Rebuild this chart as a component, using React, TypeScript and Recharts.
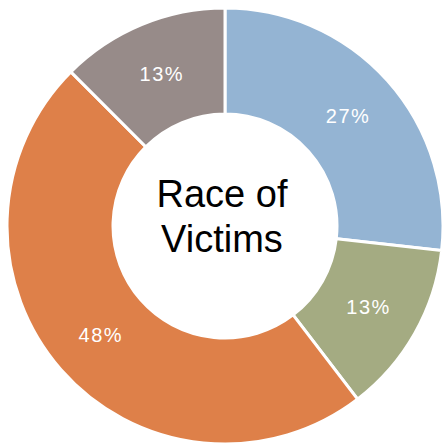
import { PieChart, Pie, Cell } from "recharts";

// Slices clockwise from 12 o'clock
const groups = ["White", "Other", "Black", "Hispanic"];
const shares = [26.8, 12.8, 47.9, 12.5];
const shareLabels = ["27%", "13%", "48%", "13%"];
const colors = ["#94B4D3", "#A4AB82", "#DE8049", "#978B89"];

const chartData = groups.map((name, i) => ({ name, value: shares[i], label: shareLabels[i] }));

const RADIAN = Math.PI / 180;

// label sits in the middle of the ring
const renderLabel = (props: any) => {
    const { cx, cy, midAngle, innerRadius, outerRadius, index } = props;
    const r = (innerRadius + outerRadius) / 2;
    const x = cx + r * Math.cos(-midAngle * RADIAN);
    const y = cy + r * Math.sin(-midAngle * RADIAN);
    return (
        <text
            x={x}
            y={y}
            fill="#ffffff"
            textAnchor="middle"
            dominantBaseline="central"
            style={{ fontSize: "20px", letterSpacing: "1.5px", fontFamily: "'Liberation Sans', Arial, sans-serif" }}
        >
            {shareLabels[index]}
        </text>
    );
};

export default function App() {
    return (
        <div style={{ position: "fixed", left: 0, top: 0, width: 446, height: 446, background: "#ffffff" }}>
            <PieChart width={446} height={446} margin={{ top: 0, right: 0, bottom: 0, left: 0 }}>
                <Pie
                    data={chartData}
                    dataKey="value"
                    cx={225}
                    cy={226}
                    innerRadius={112}
                    outerRadius={218}
                    startAngle={90}
                    endAngle={-270}
                    stroke="#ffffff"
                    strokeWidth={3}
                    label={renderLabel}
                    labelLine={false}
                    isAnimationActive={false}
                >
                    {chartData.map((entry, i) => (
                        <Cell key={entry.name} fill={colors[i]} />
                    ))}
                </Pie>
                <text
                    x={222}
                    y={207}
                    textAnchor="middle"
                    fill="#000000"
                    style={{ fontSize: "38px", fontFamily: "'Liberation Sans', Arial, sans-serif" }}
                >
                    Race of
                </text>
                <text
                    x={222}
                    y={252}
                    textAnchor="middle"
                    fill="#000000"
                    style={{ fontSize: "38px", fontFamily: "'Liberation Sans', Arial, sans-serif" }}
                >
                    Victims
                </text>
            </PieChart>
        </div>
    );
}
